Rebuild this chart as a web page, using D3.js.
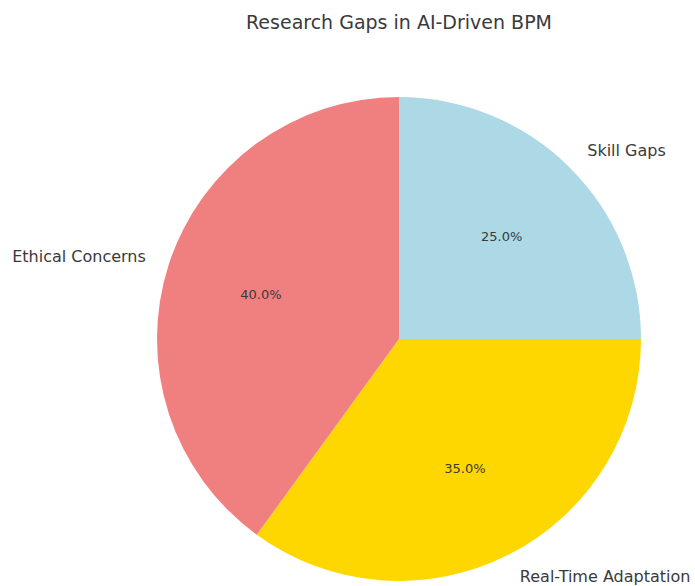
<!DOCTYPE html>
<html lang="en">
<head>
<meta charset="utf-8">
<script src="https://d3js.org/d3.v7.min.js"></script>
<style>
  body { margin: 0; background: white; }
  text { font-family: "DejaVu Sans", sans-serif; fill: #3a3a3a; }
</style>
</head>
<body>
<script>
// data, in clockwise order from 12 o'clock
var categories = ["Skill Gaps", "Real-Time Adaptation", "Ethical Concerns"];
var values = [25, 35, 40];
var colours = ["#add8e6", "#ffd700", "#f08080"];

var width = 695, height = 586;
var cx = 399, cy = 339, radius = 242;

var svg = d3.select("body").append("svg")
  .attr("width", width)
  .attr("height", height);

svg.append("text")
  .attr("x", cx)
  .attr("y", 22)
  .attr("text-anchor", "middle")
  .attr("dominant-baseline", "central")
  .style("font-size", "19px")
  .text("Research Gaps in AI-Driven BPM");

var colour = d3.scaleOrdinal().domain(categories).range(colours);

var pie = d3.pie().sort(null).value(function (d, i) { return values[i]; });
var arcs = pie(categories);
var total = d3.sum(values);

var arc = d3.arc().innerRadius(0).outerRadius(radius);

var g = svg.append("g")
  .attr("transform", "translate(" + cx + "," + cy + ")");

g.selectAll("path")
  .data(arcs)
  .enter()
  .append("path")
  .attr("d", arc)
  .attr("fill", function (d) { return colour(d.data); });

function mid(d) { return (d.startAngle + d.endAngle) / 2; }

// outer labels (1.1 * radius)
g.selectAll(".lbl")
  .data(arcs)
  .enter()
  .append("text")
  .attr("class", "lbl")
  .attr("x", function (d) { return Math.sin(mid(d)) * radius * 1.1; })
  .attr("y", function (d) { return -Math.cos(mid(d)) * radius * 1.1; })
  .attr("text-anchor", function (d) { return Math.sin(mid(d)) >= 0 ? "start" : "end"; })
  .attr("dominant-baseline", "central")
  .style("font-size", "16px")
  .text(function (d) { return d.data; });

// percentages (0.6 * radius)
g.selectAll(".pct")
  .data(arcs)
  .enter()
  .append("text")
  .attr("class", "pct")
  .attr("x", function (d) { return Math.sin(mid(d)) * radius * 0.6; })
  .attr("y", function (d) { return -Math.cos(mid(d)) * radius * 0.6; })
  .attr("text-anchor", "middle")
  .attr("dominant-baseline", "central")
  .style("font-size", "13px")
  .text(function (d) { return (d.value / total * 100).toFixed(1) + "%"; });
</script>
</body>
</html>
